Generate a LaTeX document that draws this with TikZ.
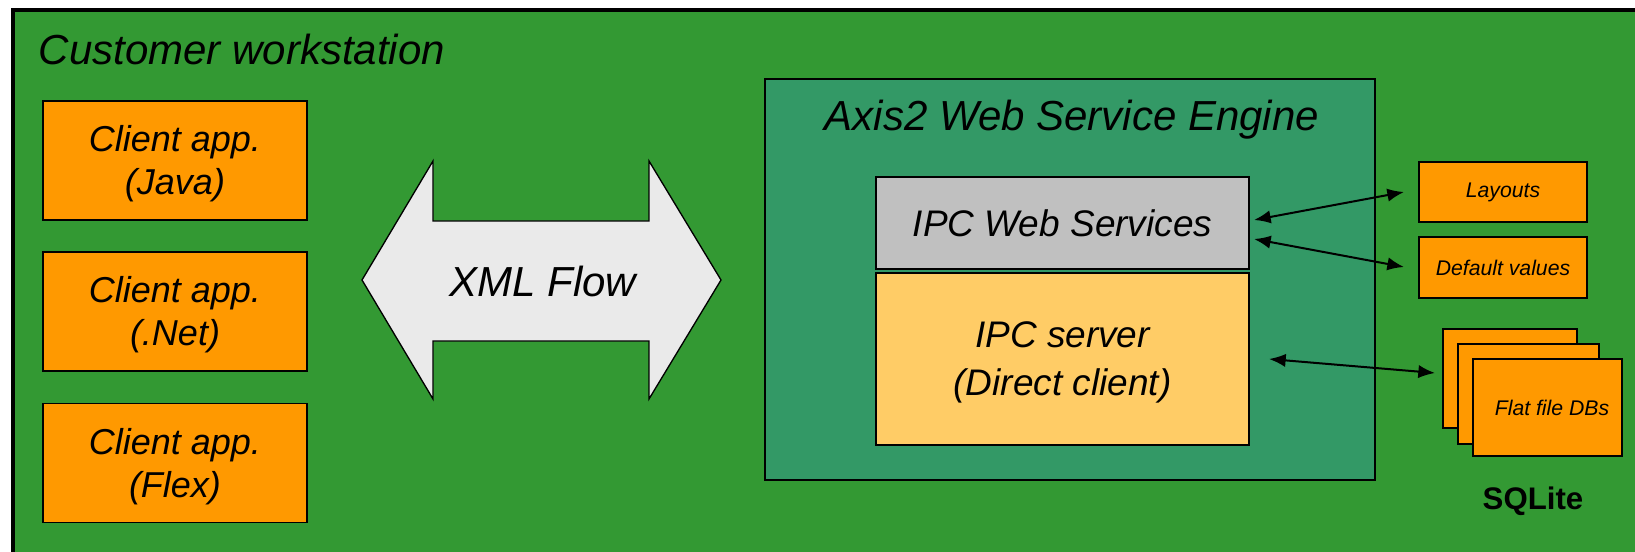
\documentclass[tikz,border=0pt]{standalone}
\usepackage{fontspec}
\setmainfont{Liberation Sans}
\usetikzlibrary{arrows.meta}
\definecolor{wsgreen}{RGB}{51,153,51}
\definecolor{axgreen}{RGB}{51,153,102}
\definecolor{orng}{RGB}{255,153,0}
\definecolor{lgray}{RGB}{192,192,192}
\definecolor{lyellow}{RGB}{255,204,102}
\definecolor{arrowfill}{RGB}{234,234,234}
\begin{document}
\begin{tikzpicture}[x=0.75pt,y=-0.75pt,
  boxbase/.style={draw=black, line width=1.1pt, rectangle, inner sep=0pt, align=center},
  clientbox/.style={boxbase, fill=orng, minimum width=198pt, minimum height=89.25pt,
    font=\fontsize{27pt}{32.25pt}\selectfont\itshape},
  titletext/.style={inner sep=0pt, font=\fontsize{31.5pt}{38pt}\selectfont\itshape},
  ipcbox/.style={boxbase, minimum width=279.75pt,
    font=\fontsize{27.75pt}{36pt}\selectfont\itshape},
  smallbox/.style={boxbase, fill=orng, minimum width=126pt,
    font=\fontsize{15.9pt}{19pt}\selectfont\itshape},
  dbbox/.style={boxbase, fill=orng},
  conn/.style={{Latex[length=12.5pt,width=10pt]}-{Latex[length=12.5pt,width=10pt]}, line width=1.5pt}
]
\useasboundingbox (0,0) rectangle (1635,552);
\clip (0,0) rectangle (1635,552);
\fill[white] (0,0) rectangle (1635,552);
% outer frame
\draw[line width=3pt, fill=wsgreen] (13,10.3) rectangle (1700,620);
\node[titletext, anchor=base west] (cw) at (38.5,64.5) {Customer workstation};

% client apps
\node[clientbox] (java) at (175,160.5) {\rule{0pt}{25pt}Client app.\\(Java)};
\node[clientbox] (net) at (175,311.5) {\rule{0pt}{25pt}Client app.\\(.Net)};
\node[clientbox] (flex) at (175,463) {\rule{0pt}{25pt}Client app.\\(Flex)};

% XML flow double arrow
\draw[fill=arrowfill, line width=1pt, line join=miter]
  (362,280) -- (433,161) -- (433,221) -- (649,221) -- (649,161) -- (721,280)
  -- (649,399) -- (649,341) -- (433,341) -- (433,399) -- cycle;
\node[titletext] (xml) at (543,281.5) {XML Flow};

% Axis2 engine
\node[boxbase, fill=axgreen, minimum width=457.5pt, minimum height=300.75pt] (axis) at (1070,279.5) {};
\node[titletext, anchor=base] (axt) at (1072,131) {Axis2 Web Service Engine};
\node[ipcbox, fill=lgray, minimum height=69pt] (ws) at (1062.5,223) {IPC Web Services};
\node[ipcbox, fill=lyellow, minimum height=129pt] (srv) at (1062.5,359) {\rule{0pt}{24pt}IPC server\\(Direct client)};

% data stores
\node[smallbox, minimum height=45pt] (lay) at (1503,192) {Layouts};
\node[smallbox, minimum height=45.75pt] (def) at (1503,267.5) {Default values};
\node[dbbox, minimum width=100.5pt, minimum height=74.25pt] (db1) at (1510,378.5) {};
\node[dbbox, minimum width=105.75pt, minimum height=75pt] (db2) at (1528.5,394) {};
\node[dbbox, minimum width=111.75pt, minimum height=72.75pt,
  font=\fontsize{15.9pt}{19pt}\selectfont\itshape] (db3) at (1547.5,407.5) {\hspace*{6.75pt}Flat file DBs};
\node[inner sep=0pt, anchor=base, font=\fontsize{23.4pt}{28pt}\selectfont\bfseries] (sql) at (1533,509) {SQLite};

% connectors
\coordinate (a1l) at (1254,220);
\coordinate (a1r) at (1404,192);
\coordinate (a2l) at (1254,239);
\coordinate (a2r) at (1404,267);
\coordinate (a3l) at (1269,359);
\coordinate (a3r) at (1435,373);
\draw[conn] (a1l) -- (a1r);
\draw[conn] (a2l) -- (a2r);
\draw[conn] (a3l) -- (a3r);
\end{tikzpicture}
\end{document}
